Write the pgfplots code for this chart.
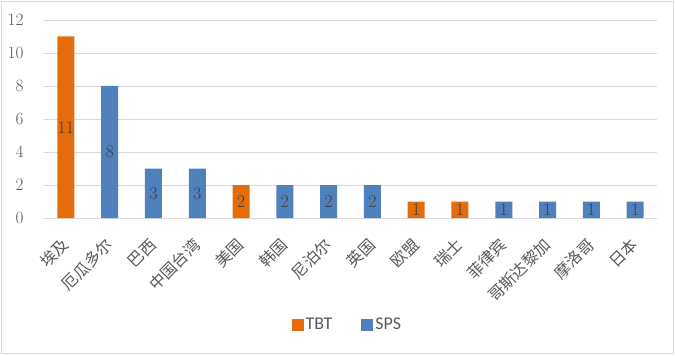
\documentclass[border=0pt]{standalone}
\usepackage{pgfplots}
\pgfplotsset{compat=1.18}
\usepackage{fontspec}
\setsansfont{Carlito}
\newfontfamily\cjk{Noto Sans CJK SC}
\definecolor{tbt}{RGB}{228,108,10}
\definecolor{sps}{RGB}{79,129,189}
\definecolor{gridc}{RGB}{217,217,217}
\definecolor{txt}{RGB}{89,89,89}
\definecolor{lbl}{RGB}{64,64,64}
\begin{document}
\begin{tikzpicture}[x=1bp,y=1bp]
\useasboundingbox (0,0) rectangle (675,355);
\draw[color=gridc, line width=1.5bp] (1.5,1.5) rectangle (673.5,353.5);
\begin{axis}[at={(44bp,137bp)}, anchor=south west, scale only axis,
  width=613bp, height=198bp,
  xmin=-0.5, xmax=13.5, ymin=0, ymax=12,
  ytick={0,2,...,12}, xtick={0,...,13},
  xticklabels={埃及,厄瓜多尔,巴西,中国台湾,美国,韩国,尼泊尔,英国,欧盟,瑞士,菲律宾,哥斯达黎加,摩洛哥,日本},
  ymajorgrids, grid style={draw=gridc, line width=0.8bp},
  axis line style={draw=none}, major tick length=0pt,
  yticklabel style={font=\fontsize{18}{18}\selectfont, text=txt, xshift=-17bp},
  xticklabel style={xshift=0bp, yshift=-24bp, rotate=45, anchor=east, inner sep=0pt,
    font=\cjk\fontsize{16}{16}\selectfont, text=txt},
  bar width=17bp,
  legend style={at={(0.495,-0.54)}, anchor=center, legend columns=2, draw=none,
    font=\sffamily\fontsize{18}{18}\selectfont, text=txt,
    /tikz/every even column/.append style={column sep=27bp}},
  legend image code/.code={\fill[#1] (0bp,-6bp) rectangle (12bp,6bp);},
]
\addplot[ybar, bar shift=0pt, fill=tbt, draw=none] coordinates {(0,11) (4,2) (8,1) (9,1)};
\addlegendentry{TBT}
\addplot[ybar, bar shift=0pt, fill=sps, draw=none] coordinates {(1,8) (2,3) (3,3) (5,2) (6,2) (7,2) (10,1) (11,1) (12,1) (13,1)};
\addlegendentry{SPS}
\addplot[draw=none, mark=none, forget plot, nodes near coords, point meta=explicit symbolic,
  every node near coord/.style={anchor=center, font=\fontsize{18}{18}\selectfont, text=lbl}]
  coordinates {(0,5.5)[11] (1,4)[8] (2,1.5)[3] (3,1.5)[3] (4,1)[2] (5,1)[2] (6,1)[2] (7,1)[2]
  (8,0.5)[1] (9,0.5)[1] (10,0.5)[1] (11,0.5)[1] (12,0.5)[1] (13,0.5)[1]};
\end{axis}
\end{tikzpicture}
\end{document}
